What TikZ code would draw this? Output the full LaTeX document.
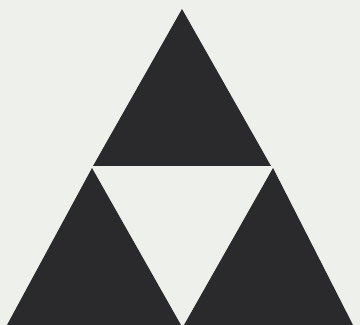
\documentclass[tikz,border=0pt]{standalone}
\usepackage{tikz}
\usepackage{xcolor}
\definecolor{paper}{HTML}{EEF0EC}
\definecolor{ink}{HTML}{2A292B}
\tikzset{piece/.style={fill=ink,draw=none}}

\begin{document}
\begin{tikzpicture}[x=1pt,y=1pt]
% page background
\fill[paper] (0,0) rectangle (360,325);
\useasboundingbox (0,0) rectangle (360,325);
% three corner triangles
\fill[piece] (182,316) -- (271,159) -- (93,159) -- cycle;
\fill[piece] (92,157) -- (181,0) -- (7,0) -- cycle;
\fill[piece] (273,157) -- (353,0) -- (184,0) -- cycle;
\end{tikzpicture}
\end{document}
